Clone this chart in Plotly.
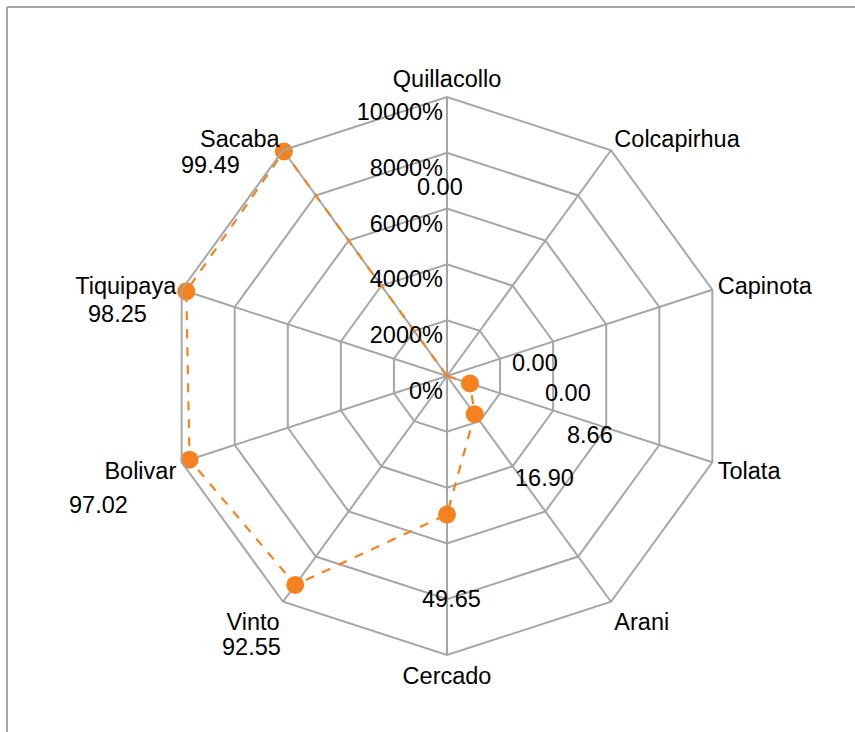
import plotly.graph_objects as go

# ---- data ----
categories = ["Quillacollo", "Colcapirhua", "Capinota", "Tolata", "Arani",
              "Cercado", "Vinto", "Bolivar", "Tiquipaya", "Sacaba"]
values = [0.00, 0.00, 0.00, 8.66, 16.90, 49.65, 92.55, 97.02, 98.25, 99.49]
tick_vals = [0, 20, 40, 60, 80, 100]
tick_text = ["0%", "2000%", "4000%", "6000%", "8000%", "10000%"]

# ---- style / layout ----
W, H = 855, 732
CX, CY, R = 447, 376, 279          # polar centre and radius in pixels
ORANGE = "#F5821F"
GRID = "#A6A6A6"
FONT = "Liberation Sans, Arial, sans-serif"
FS = 23.5

# data-label anchor pixel positions (centre of text) – style only
label_xy = [(440, 187), (535, 363), (568, 393), (590, 435), (544, 478),
            (451, 599), (252, 647), (98, 505), (117, 314), (210, 165)]

fig = go.Figure()
fig.add_trace(go.Scatterpolar(
    r=values + [values[0]],
    theta=categories + [categories[0]],
    mode="lines+markers",
    line=dict(color=ORANGE, width=2.2, dash="dash"),
    marker=dict(color=ORANGE, size=18),
    showlegend=False,
    hoverinfo="skip",
))

annotations = []
for v, (x, y) in zip(values, label_xy):
    annotations.append(dict(
        x=x / W, y=1 - y / H, xref="paper", yref="paper",
        text=f"{v:.2f}", showarrow=False,
        font=dict(family=FONT, size=FS, color="black"),
        xanchor="center", yanchor="middle",
    ))

fig.update_layout(
    width=W, height=H,
    margin=dict(l=0, r=0, t=0, b=0),
    paper_bgcolor="white",
    font=dict(family=FONT, size=FS, color="black"),
    polar=dict(
        domain=dict(x=[(CX - R) / W, (CX + R) / W],
                    y=[1 - (CY + R) / H, 1 - (CY - R) / H]),
        bgcolor="white",
        gridshape="linear",
        angularaxis=dict(
            direction="clockwise", rotation=90,
            showline=True, linecolor=GRID, linewidth=2,
            gridcolor=GRID, gridwidth=2,
            ticks="", tickfont=dict(family=FONT, size=FS, color="black"),
        ),
        radialaxis=dict(
            range=[0, 100], angle=90, tickangle=90,
            tickvals=tick_vals, ticktext=["<br>" + t for t in tick_text],
            showline=False, ticks="",
            gridcolor=GRID, gridwidth=2,
            side="counterclockwise",
            tickfont=dict(family=FONT, size=FS, color="black"),
        ),
    ),
    annotations=annotations,
    shapes=[
        dict(type="line", xref="paper", yref="paper",
             x0=7 / W, x1=7 / W, y0=0, y1=1 - 7 / H,
             line=dict(color=GRID, width=2)),
        dict(type="line", xref="paper", yref="paper",
             x0=7 / W, x1=1, y0=1 - 7 / H, y1=1 - 7 / H,
             line=dict(color=GRID, width=2)),
    ],
)

fig.write_html("out.html",
               config={"displayModeBar": False},
               post_script="document.body.style.margin='0';"
                           "document.body.style.overflow='hidden';")
